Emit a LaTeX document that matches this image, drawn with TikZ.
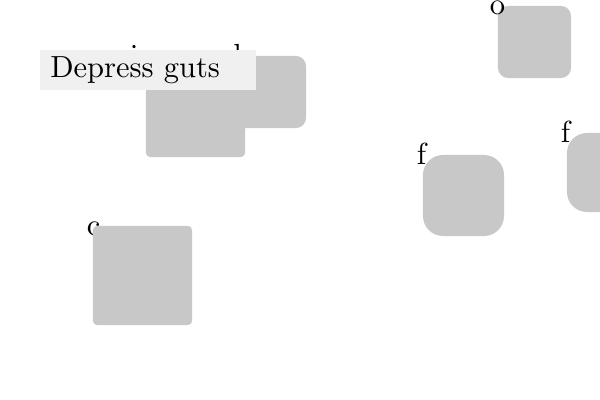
\documentclass[tikz,border=0pt]{standalone}
\usepackage{xcolor}
\definecolor{boxgray}{HTML}{C8C8C8}
\definecolor{tagfill}{HTML}{F0F0F0}
\newcommand{\bigtext}[1]{\scalebox{2.17}{#1}}
\begin{document}
\begin{tikzpicture}[x=0.025cm, y=-0.025cm,
  organ/.style={fill=boxgray, draw=none, inner sep=0pt, outer sep=0pt},
  tag/.style={inner sep=0pt, anchor=base},
  banner/.style={fill=tagfill, inner ysep=0pt, inner xsep=0.25cm, minimum height=1cm, text width=4.9cm, align=left}]

  \useasboundingbox (0,0) rectangle (600,400);

  % Box corners
  \coordinate (NA) at (186,56);
  \coordinate (NO) at (498,6);
  \coordinate (NF1) at (423,155);
  \coordinate (NF2) at (567,133);
  \coordinate (NC) at (93,226);

  % Labels (drawn first, boxes sit on top)
  \node[tag] (TA) at ([yshift=-7pt]NA) {\bigtext{incensed}};
  \node[tag] (TF1) at ([xshift=-1pt, yshift=-7pt]NF1) {\bigtext{f}};
  \node[tag] (TF2) at ([xshift=-1pt, yshift=-7pt]NF2) {\bigtext{f}};
  \node[tag] (TC) at ([xshift=0.5pt, yshift=-6.5pt]NC) {\bigtext{c}};

  % Boxes
  \node[organ, minimum width=2.475cm, minimum height=2.45cm, rounded corners=0.1cm] (A1) at (195.5,108) {};
  \node[organ, minimum width=3cm, minimum height=1.8cm, rounded corners=0.25cm] (A2) at (246,92) {};
  \node[organ, minimum width=1.825cm, minimum height=1.8cm, rounded corners=0.25cm] (O) at (534.5,42) {};
  \node[organ, minimum width=2.025cm, minimum height=2.025cm, rounded corners=0.5cm] (F1) at (463.5,195.5) {};
  \node[organ, minimum width=2cm, minimum height=1.975cm, rounded corners=0.5cm] (F2) at (607,172.5) {};
  \node[organ, minimum width=2.475cm, minimum height=2.475cm, rounded corners=0.1cm] (C) at (142.5,275.5) {};

  % Labels on top
  \node[tag] (TO) at ([xshift=-0.3pt, yshift=-6.4pt]NO) {\bigtext{o}};
  \node[banner, anchor=west] (D) at (40,70) {\bigtext{Depress guts}};

\end{tikzpicture}
\end{document}
